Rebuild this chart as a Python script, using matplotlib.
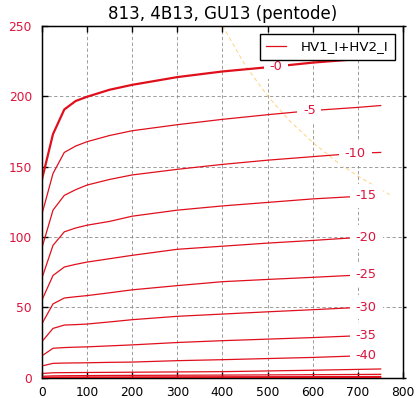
import numpy as np
import matplotlib
matplotlib.use('Agg')
import matplotlib.pyplot as plt

#%% Data (plate volts vs. HV1_I+HV2_I in mA)

v_plate = [0, 25, 50, 75, 100, 150, 200, 300, 400, 500, 600, 700, 750]

i_g0 = [140, 173, 190.5, 196.5, 199.5, 204.5, 208, 213.5, 217.5, 220.5, 223.8, 226.3, 227.6]
i_g5 = [115.5, 145, 160, 164.5, 167.6, 172, 175.4, 179.7, 183.5, 186.8, 189.8, 192, 193.3]
i_g10 = [91.6, 119, 129.5, 133.5, 136.8, 140.8, 144, 148, 151.5, 154.5, 157, 159.5, 160]
i_g15 = [70.2, 94, 103.6, 106.3, 108.3, 111, 114.7, 119, 122, 124.5, 127, 128.8, 129.8]
i_g20 = [54.7, 72.6, 78.6, 80.5, 82.1, 84.5, 86.9, 91.2, 93.4, 95.6, 97.5, 99.6, 100.5]
i_g25 = [38, 52.4, 56.6, 57.5, 58.3, 60.3, 62.4, 65.4, 68.2, 69.8, 71.3, 72.9, 73.6]
i_g30 = [25.4, 35, 37.4, 37.7, 38.1, 39.6, 41.2, 43.6, 45.2, 46.8, 48.3, 49.9, 50.5]
i_g35 = [15.4, 20.9, 21.4, 21.7, 21.9, 22.6, 23.3, 25, 26.3, 27.4, 28.5, 29.8, 30.3]
i_g40 = [8.3, 10.2, 10.4, 10.5, 10.6, 10.9, 11.1, 12.1, 12.8, 13.6, 14.4, 15.5, 15.9]
i_g45 = [3, 3.5, 3.6, 3.65, 3.7, 3.8, 3.9, 4.1, 4.3, 4.8, 5.3, 5.9, 6.2]
i_g50 = [1.0, 1.3, 1.4, 1.45, 1.5, 1.6, 1.65, 1.75, 1.85, 2.0, 2.15, 2.3, 2.4]
i_g55 = [0.3, 0.4, 0.45, 0.45, 0.5, 0.5, 0.55, 0.6, 0.65, 0.7, 0.75, 0.8, 0.85]
i_g60 = [0.05, 0.08, 0.1, 0.1, 0.1, 0.12, 0.12, 0.14, 0.15, 0.16, 0.18, 0.19, 0.2]

curves = [i_g0, i_g5, i_g10, i_g15, i_g20, i_g25, i_g30, i_g35, i_g40,
          i_g45, i_g50, i_g55, i_g60]
curve_labels = ['-0', '-5', '-10', '-15', '-20', '-25', '-30', '-35', '-40']

# max dissipation line
v_pmax = [400, 450, 500, 550, 600, 650, 700, 770]
i_pmax = [250, 222, 200, 182, 167, 154, 143, 130]

#%% Plotting

line_col = '#e00f1c'
text_col = 'crimson'

fig = plt.figure(figsize=(4.19, 3.98), dpi=100)
fig.subplots_adjust(left=0.0995, right=0.9625, bottom=0.051, top=0.9354)
ax = fig.add_subplot(111)

for n, cur in enumerate(curves):
    lw = 1.6 if n == 0 else 0.9
    ax.plot(v_plate, cur, color=line_col, lw=lw, zorder=3)

ax.plot(v_pmax, i_pmax, color='orange', alpha=0.5, lw=0.7,
        linestyle=(0, (4, 3)), zorder=2)

# inline labels with white boxes (like labelLines)
label_x = [518, 592, 694, 718, 718, 718, 718, 718, 718]
for txt, xl, cur in zip(curve_labels, label_x, curves):
    yl = np.interp(xl, v_plate, cur)
    ax.text(xl, yl, txt, color=text_col, fontsize=9.3, ha='center',
            va='center', zorder=4,
            bbox=dict(boxstyle='square,pad=0.45', fc='white', ec='none'))

# legend only with a single entry
leg_line, = ax.plot([], [], color=line_col, lw=0.9)
leg = ax.legend([leg_line], ['HV1_I+HV2_I'], loc='upper right',
                fontsize=9.6, handlelength=1.5, handletextpad=1.1,
                borderpad=0.5, fancybox=False, framealpha=1,
                edgecolor='black', borderaxespad=0.6)
leg.get_frame().set_linewidth(1.0)
leg.set_zorder(5)

ax.set_xlim(0, 800)
ax.set_ylim(0, 250)
ax.set_xticks(np.arange(0, 801, 100))
ax.set_yticks(np.arange(0, 251, 50))
ax.grid(True, linestyle=(0, (4, 3)), color='#808080', lw=0.6, alpha=0.9)
ax.set_axisbelow(True)

ax.tick_params(direction='in', top=True, right=True, length=4, width=1,
               labelsize=8.8)
ax.tick_params(axis='x', pad=6)
ax.tick_params(axis='y', pad=7, labelcolor=text_col)
for sp in ax.spines.values():
    sp.set_linewidth(1.0)

# right side ticks also poke outwards
ax2 = ax.twinx()
ax2.set_ylim(0, 250)
ax2.set_yticks(np.arange(0, 251, 50))
ax2.tick_params(direction='out', length=2.5, width=1, labelright=False)

ax.set_title('813, 4B13, GU13 (pentode)', fontsize=12, pad=5)

plt.savefig('out.png', dpi=100, facecolor='white')
